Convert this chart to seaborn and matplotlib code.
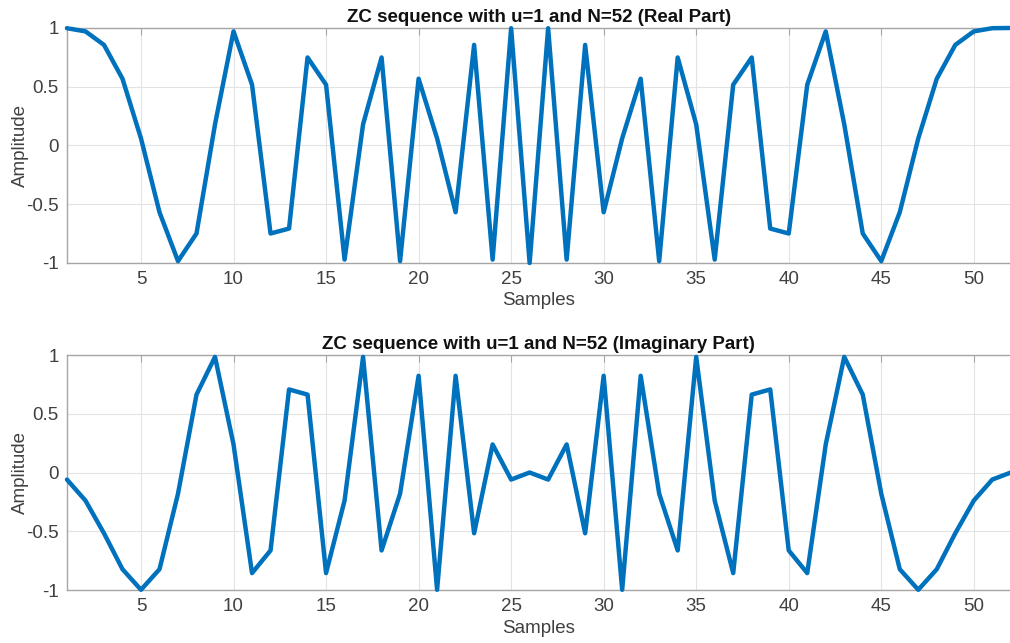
import numpy as np
import pandas as pd
import matplotlib
matplotlib.use("Agg")
import matplotlib.pyplot as plt
import seaborn as sns

samples = list(range(1, 53))
real_part = [0.998, 0.971, 0.856, 0.568, 0.060, -0.568, -0.984, -0.749, 0.180, 0.971,
             0.517, -0.749, -0.707, 0.749, 0.517, -0.971, 0.180, 0.749, -0.984, 0.568,
             0.060, -0.568, 0.856, -0.971, 0.998, -1.000, 0.998, -0.971, 0.856, -0.568,
             0.060, 0.568, -0.984, 0.749, 0.180, -0.971, 0.517, 0.749, -0.707, -0.749,
             0.517, 0.971, 0.180, -0.749, -0.984, -0.568, 0.060, 0.568, 0.856, 0.971,
             0.998, 1.000]
imag_part = [-0.060, -0.239, -0.517, -0.823, -0.998, -0.823, -0.180, 0.663, 0.984, 0.239,
             -0.856, -0.663, 0.707, 0.663, -0.856, -0.239, 0.984, -0.663, -0.180, 0.823,
             -0.998, 0.823, -0.517, 0.239, -0.060, 0.000, -0.060, 0.239, -0.517, 0.823,
             -0.998, 0.823, -0.180, -0.663, 0.984, -0.239, -0.856, 0.663, 0.707, -0.663,
             -0.856, 0.239, 0.984, 0.663, -0.180, -0.823, -0.998, -0.823, -0.517, -0.239,
             -0.060, 0.000]
titles = ["ZC sequence with u=1 and N=52 (Real Part)",
          "ZC sequence with u=1 and N=52 (Imaginary Part)"]
xticks = [5, 10, 15, 20, 25, 30, 35, 40, 45, 50]
yticks = [-1, -0.5, 0, 0.5, 1]
ytick_labels = ["-1", "-0.5", "0", "0.5", "1"]

sns.set_theme(style="white")
plt.rcParams['font.family'] = ['Liberation Sans', 'DejaVu Sans']

fig = plt.figure(figsize=(10.1, 6.43), dpi=100)
ax1 = fig.add_axes([0.0663, 0.591, 0.9345, 0.3655])
ax2 = fig.add_axes([0.0663, 0.0824, 0.9345, 0.3655])

line_color = "#0072BD"
text_color = "#404040"
spine_color = "#A6A6A6"

for ax, vals, title in [(ax1, real_part, titles[0]), (ax2, imag_part, titles[1])]:
    df = pd.DataFrame({"Samples": samples, "Amplitude": vals})
    sns.lineplot(data=df, x="Samples", y="Amplitude", ax=ax, color=line_color,
                 linewidth=3.2, clip_on=False, zorder=3)
    ax.set_xlim(1, 52)
    ax.set_ylim(-1, 1)
    ax.set_xticks(xticks)
    ax.set_yticks(yticks)
    ax.set_yticklabels(ytick_labels)
    ax.grid(True, color="#E3E3E3", linewidth=0.8)
    ax.set_axisbelow(True)
    for s in ax.spines.values():
        s.set_color(spine_color)
        s.set_linewidth(1.0)
    ax.spines["right"].set_visible(False)
    ax.tick_params(direction="in", length=5, width=0.8, color=spine_color,
                   labelcolor=text_color, labelsize=13.5, top=True, right=False,
                   pad=6)
    ax.set_title(title, fontsize=13.5, fontweight="bold", color="#111111", pad=4)
    ax.set_xlabel("Samples", fontsize=13.5, color=text_color, labelpad=3)
    ax.set_ylabel("Amplitude", fontsize=13.5, color=text_color)
    ax.yaxis.set_label_coords(-0.040, 0.5)

fig.savefig("out.png", dpi=100)
